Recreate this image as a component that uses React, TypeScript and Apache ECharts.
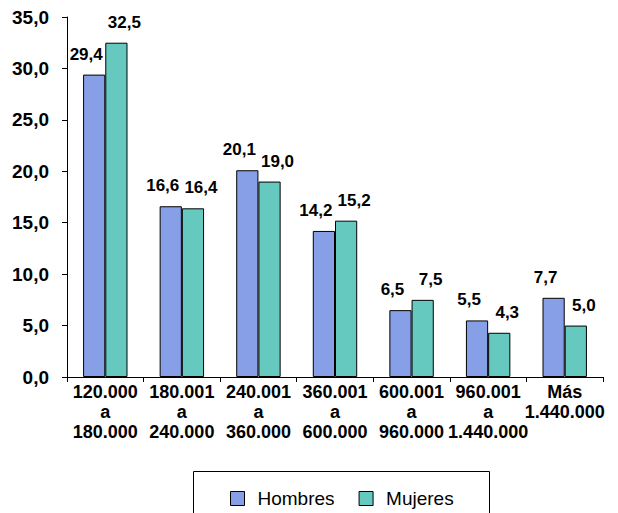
import React, { useEffect, useRef } from "react";
import * as echarts from "echarts";

const categories = [
  "120.000\na\n180.000",
  "180.001\na\n240.000",
  "240.001\na\n360.000",
  "360.001\na\n600.000",
  "600.001\na\n960.000",
  "960.001\na\n1.440.000",
  "Más\n1.440.000",
];
const hombres = [29.4, 16.6, 20.1, 14.2, 6.5, 5.5, 7.7];
const mujeres = [32.5, 16.4, 19.0, 15.2, 7.5, 4.3, 5.0];

const FONT = "'Liberation Sans', Arial, sans-serif";
const fmt = (v: number) => v.toFixed(1).replace(".", ",");

export default function App() {
  const ref = useRef<HTMLDivElement>(null);
  useEffect(() => {
    document.body.style.margin = "0";
    const chart = echarts.init(ref.current!, null, { renderer: "svg" });
    const labelBase = {
      show: true,
      position: "top" as const,
      fontFamily: FONT,
      fontWeight: "bold" as const,
      fontSize: 17,
      color: "#000",
      formatter: (p: any) => fmt(p.value),
    };
    chart.setOption({
      animation: false,
      backgroundColor: "#fff",
      grid: { left: 67, right: 15, top: 17, bottom: 136 },
      xAxis: {
        type: "category",
        data: categories,
        axisLine: { lineStyle: { color: "#000", width: 1 } },
        axisTick: { show: true, length: 5, lineStyle: { color: "#000" } },
        axisLabel: {
          interval: 0,
          margin: 5,
          fontFamily: FONT,
          fontWeight: "bold",
          fontSize: 18,
          lineHeight: 20,
          color: "#000",
        },
      },
      yAxis: {
        type: "value",
        min: 0,
        max: 35,
        interval: 5,
        splitLine: { show: false },
        axisLine: { show: true, lineStyle: { color: "#000", width: 1 } },
        axisTick: { show: true, length: 5, lineStyle: { color: "#000" } },
        axisLabel: {
          margin: 18,
          fontFamily: FONT,
          fontWeight: "bold",
          fontSize: 19,
          color: "#000",
          formatter: (v: number) => fmt(v),
        },
      },
      legend: {
        left: 225,
        top: 484,
        itemWidth: 14,
        itemHeight: 14,
        itemGap: 24,
        icon: "rect",
        itemStyle: { borderColor: "#000", borderWidth: 1 },
        textStyle: {
          fontFamily: FONT,
          fontSize: 19,
          color: "#000",
          padding: [0, 0, 0, 8],
        },
        data: ["Hombres", "Mujeres"],
      },
      graphic: [
        {
          type: "rect",
          shape: { x: 193.5, y: 471.5, width: 296, height: 60 },
          style: { fill: "none", stroke: "#000", lineWidth: 1 },
          z: -1,
        },
      ],
      series: [
        {
          name: "Hombres",
          type: "bar",
          data: hombres,
          barGap: "0%",
          barCategoryGap: "42%",
          itemStyle: { color: "#879FE6", borderColor: "#000", borderWidth: 1 },
          label: { ...labelBase, offset: [-8, -7] },
        },
        {
          name: "Mujeres",
          type: "bar",
          data: mujeres,
          itemStyle: { color: "#66C9BF", borderColor: "#000", borderWidth: 1 },
          label: { ...labelBase, offset: [8, -7] },
        },
      ],
    });
    return () => chart.dispose();
  }, []);
  return <div ref={ref} style={{ width: 618, height: 513 }} />;
}
